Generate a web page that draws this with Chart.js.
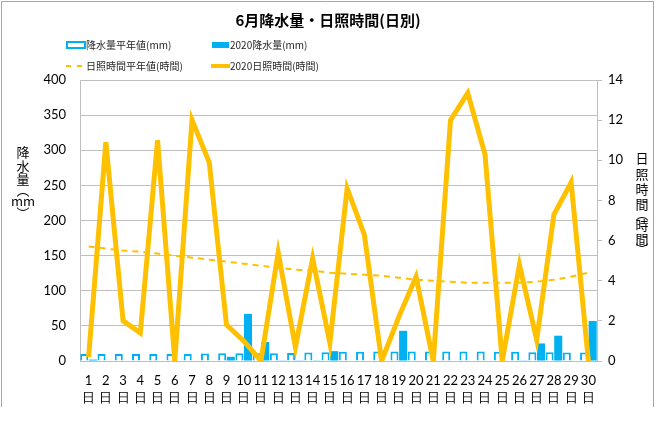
<!DOCTYPE html>
<html>
<head>
<meta charset="utf-8">
<script src="https://cdn.jsdelivr.net/npm/chart.js@4/dist/chart.umd.min.js"></script>
<style>
  html, body { margin: 0; padding: 0; background: #fff; }
  #wrap { width: 660px; height: 427px; position: relative; }
</style>
</head>
<body>
<div id="wrap"><canvas id="myChart" width="660" height="427"></canvas></div>
<script>
// donnees
const days = ['1','2','3','4','5','6','7','8','9','10','11','12','13','14','15',
              '16','17','18','19','20','21','22','23','24','25','26','27','28','29','30'];
const dayUnit = '日';

const rainNormal = [10,10,10,10,10,10,10,10.5,11,11,11,11,11.5,12,12.5,
                    13,13,13.5,13.5,13.5,13.5,13.5,13.5,13.5,13,13,12.5,12.5,12,12];
const rain2020 = [2,0,0,0,0,0,0,0,6,67,27,1,1,1,14,
                  0,0,0,43,0,0,0,0,0,0,1,25,36,0,57];
const sunNormal = [5.7,5.6,5.5,5.45,5.35,5.25,5.15,5.05,4.95,4.85,4.75,4.65,4.55,4.5,4.4,
                   4.35,4.3,4.25,4.15,4.05,4.0,3.95,3.9,3.9,3.9,3.9,3.95,4.05,4.2,4.4];
const sun2020 = [0.2,10.9,2.0,1.4,11.0,0,12.0,9.9,1.8,1.0,0,5.4,0.7,5.1,0.9,
                 8.6,6.3,0,2.2,4.2,0,12.0,13.35,10.3,0,4.8,1.05,7.3,8.9,0];

const chartTitle = '6月降水量・日照時間(日別)';
const leftTitle = ['降', '水', '量', '︵', 'mm', '︶'];
const rightTitle = ['日', '照', '時', '間', '︵', '時', '間', '︶'];
const legendItems = ['降水量平年値(mm)', '2020降水量(mm)', '日照時間平年値(時間)', '2020日照時間(時間)'];

const BLUE = '#00B0F0';
const GOLD = '#FFC000';
const GRID = '#BFBFBF';
const JP = '"Noto Sans CJK JP", "Noto Sans", sans-serif';
const NUM = 'Lato, "Liberation Sans", sans-serif';

// cadre, titre, legende et titres des axes
const decor = {
    id: 'decor',
    afterDraw(chart) {
        const ctx = chart.ctx;
        ctx.save();

        // cadre gris
        ctx.strokeStyle = '#A6A6A6';
        ctx.lineWidth = 1;
        ctx.beginPath();
        ctx.moveTo(1.5, 407);
        ctx.lineTo(1.5, 1.5);
        ctx.lineTo(653.5, 1.5);
        ctx.lineTo(653.5, 407);
        ctx.stroke();

        // titre
        ctx.fillStyle = '#000';
        ctx.font = 'bold 15px ' + JP;
        ctx.textAlign = 'center';
        ctx.textBaseline = 'middle';
        ctx.fillText(chartTitle, 328, 20);

        // legende
        ctx.font = '10px ' + JP;
        ctx.textAlign = 'left';
        // 1: creux
        ctx.fillStyle = '#fff';
        ctx.strokeStyle = BLUE;
        ctx.lineWidth = 2;
        ctx.fillRect(67, 42, 18, 6);
        ctx.strokeRect(67, 42, 18, 6);
        ctx.fillStyle = '#262626';
        ctx.fillText(legendItems[0], 86, 45);
        // 2: plein
        ctx.fillStyle = BLUE;
        ctx.fillRect(212, 42, 17, 6);
        ctx.fillStyle = '#262626';
        ctx.fillText(legendItems[1], 230, 45);
        // 3: tirets
        ctx.strokeStyle = GOLD;
        ctx.lineWidth = 2;
        ctx.setLineDash([5, 6]);
        ctx.beginPath();
        ctx.moveTo(66, 66);
        ctx.lineTo(86, 66);
        ctx.stroke();
        ctx.setLineDash([]);
        ctx.fillText(legendItems[2], 86, 66);
        // 4: ligne pleine
        ctx.lineWidth = 4;
        ctx.beginPath();
        ctx.moveTo(211, 66);
        ctx.lineTo(230, 66);
        ctx.stroke();
        ctx.fillText(legendItems[3], 230, 66);

        // titres verticaux
        ctx.fillStyle = '#000';
        ctx.font = '13px ' + JP;
        ctx.textAlign = 'center';
        const ly = [152, 166, 179, 190, 201, 213];
        leftTitle.forEach((c, i) => ctx.fillText(c, 23, ly[i]));
        const ry = [158, 174, 189, 204, 214, 225, 239, 249];
        rightTitle.forEach((c, i) => ctx.fillText(c, 642, ry[i]));

        ctx.restore();
    }
};

const ctx = document.getElementById('myChart').getContext('2d');
const chart = new Chart(ctx, {
    data: {
        labels: days,
        datasets: [
            {
                type: 'line',
                label: legendItems[3],
                data: sun2020,
                yAxisID: 'y1',
                borderColor: GOLD,
                borderWidth: 5,
                pointRadius: 0,
                tension: 0,
                order: 1
            },
            {
                type: 'line',
                label: legendItems[2],
                data: sunNormal,
                yAxisID: 'y1',
                borderColor: GOLD,
                borderWidth: 2,
                borderDash: [6, 5],
                pointRadius: 0,
                tension: 0,
                order: 2
            },
            {
                type: 'bar',
                label: legendItems[0],
                data: rainNormal,
                yAxisID: 'y',
                backgroundColor: '#fff',
                borderColor: BLUE,
                borderWidth: 2,
                order: 3
            },
            {
                type: 'bar',
                label: legendItems[1],
                data: rain2020,
                yAxisID: 'y',
                backgroundColor: BLUE,
                borderWidth: 0,
                order: 3
            }
        ]
    },
    options: {
        responsive: false,
        animation: false,
        layout: { padding: { top: 80, left: 0, right: 0, bottom: 0 } },
        datasets: {
            bar: { categoryPercentage: 1.0, barPercentage: 0.93 }
        },
        plugins: {
            legend: { display: false },
            title: { display: false },
            tooltip: { enabled: false }
        },
        scales: {
            x: {
                grid: { display: false, drawTicks: false },
                border: { display: true, color: GRID, width: 1 },
                ticks: {
                    padding: 12,
                    maxRotation: 0,
                    autoSkip: false,
                    color: '#000',
                    font: { family: NUM, size: 13, lineHeight: 1.25 },
                    callback: function (value, index) {
                        return [days[index], dayUnit];
                    }
                },
                afterFit(scale) { scale.height = 66; }
            },
            y: {
                position: 'left',
                min: 0,
                max: 400,
                grid: { color: GRID, drawTicks: false },
                border: { display: true, color: GRID },
                ticks: {
                    stepSize: 50,
                    padding: 14,
                    color: '#000',
                    font: { family: NUM, size: 13 }
                },
                afterFit(scale) { scale.width = 80; }
            },
            y1: {
                position: 'right',
                min: 0,
                max: 14,
                grid: { drawOnChartArea: false, color: GRID, tickLength: 5 },
                border: { display: true, color: GRID },
                ticks: {
                    stepSize: 2,
                    padding: 6,
                    color: '#000',
                    font: { family: NUM, size: 13 }
                },
                afterFit(scale) { scale.width = 63; }
            }
        }
    },
    plugins: [decor]
});
</script>
</body>
</html>
